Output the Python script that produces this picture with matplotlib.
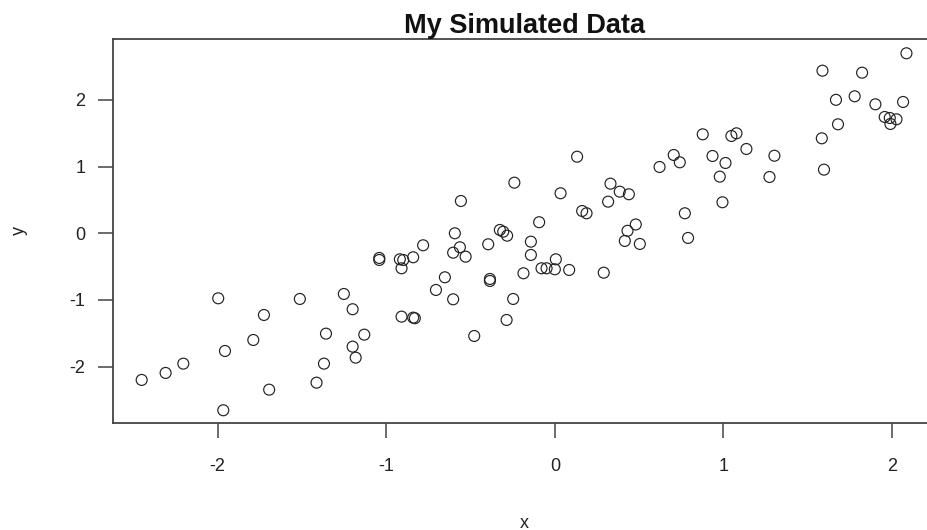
import matplotlib
matplotlib.use("Agg")
import matplotlib.pyplot as plt

plt.rcParams['font.family'] = ['Liberation Sans', 'DejaVu Sans']

# simulated data
x = [2.085, 1.587, 1.822, 1.667, 1.778, 1.901, 2.065, 1.956, 1.986, 2.026,
     1.990, 1.679, 1.583, 1.596, 0.877, 1.047, 1.077, 1.136, 1.302, 0.935,
     1.012, 0.978, 1.273, 0.994, 0.705, 0.741, 0.621, 0.132, -0.240, 0.034,
     0.330, 0.385, 0.439, 0.316, 0.162, 0.188, -0.093, 0.771, 0.480, 0.431,
     0.790, 0.415, 0.504, -0.306, -0.283, -0.326, -0.142, -0.142, -0.557, -0.593,
     -0.781, -0.603, -0.563, -0.529, -0.395, -1.041, -1.041, -0.919, -0.899, -0.909,
     -0.840, -0.652, -0.705, -0.603, -0.385, -0.385, -0.247, -0.286, -0.478, -0.909,
     -0.840, -0.830, 0.006, -0.079, -0.049, 0.000, 0.085, -0.186, 0.290, -1.996,
     -1.512, -1.251, -1.199, -1.725, -1.357, -1.130, -1.788, -1.956, -1.199, -1.181,
     -2.203, -2.308, -2.450, -1.369, -1.413, -1.694, -1.966]
y = [2.699, 2.438, 2.408, 2.001, 2.054, 1.934, 1.969, 1.744, 1.729, 1.709,
     1.639, 1.634, 1.424, 0.954, 1.484, 1.459, 1.499, 1.264, 1.163, 1.159,
     1.054, 0.849, 0.844, 0.465, 1.174, 1.064, 0.994, 1.148, 0.759, 0.600,
     0.744, 0.624, 0.585, 0.474, 0.334, 0.300, 0.166, 0.300, 0.132, 0.037,
     -0.070, -0.115, -0.160, 0.024, -0.036, 0.050, -0.126, -0.325, 0.484, 0.000,
     -0.180, -0.291, -0.210, -0.351, -0.165, -0.400, -0.370, -0.390, -0.400, -0.525,
     -0.360, -0.660, -0.850, -0.990, -0.685, -0.715, -0.985, -1.300, -1.540, -1.250,
     -1.265, -1.274, -0.390, -0.525, -0.525, -0.540, -0.550, -0.600, -0.591, -0.975,
     -0.985, -0.910, -1.139, -1.225, -1.505, -1.520, -1.600, -1.765, -1.700, -1.865,
     -1.955, -2.094, -2.199, -1.955, -2.240, -2.345, -2.654]

xticks = [-2, -1, 0, 1, 2]
yticks = [-2, -1, 0, 1, 2]

fig = plt.figure(figsize=(9.28, 5.30), dpi=100)
ax = fig.add_axes([0.1214, 0.2025, 0.887, 0.7239])

ax.scatter(x, y, s=62, facecolors='none', edgecolors='#222222', linewidths=0.85)

ax.set_xlim(-2.622, 2.259)
ax.set_ylim(-2.840, 2.913)
ax.set_xticks(xticks)
ax.set_yticks(yticks)
ax.set_xticklabels([str(v) for v in xticks])
ax.set_yticklabels([str(v) for v in yticks])

for s in ax.spines.values():
    s.set_color('#444444')
    s.set_linewidth(1.3)

ax.tick_params(axis='x', length=10.5, width=1.1, color='#444444', pad=15,
               labelsize=13, labelcolor='#222222')
ax.tick_params(axis='y', length=10.5, width=1.1, color='#444444', pad=9,
               labelsize=13, labelcolor='#222222')

ax.set_title('My Simulated Data', fontsize=19.5, fontweight='bold', pad=2,
             color='#111111')
ax.set_xlabel('x', fontsize=13, color='#222222')
ax.set_ylabel('y', fontsize=13, color='#222222')
ax.xaxis.label.set_va('center')
ax.yaxis.label.set_va('center')
ax.xaxis.set_label_coords(0.5, -0.262)
ax.yaxis.set_label_coords(-0.113, 0.5)

plt.savefig('out.png', dpi=100)
